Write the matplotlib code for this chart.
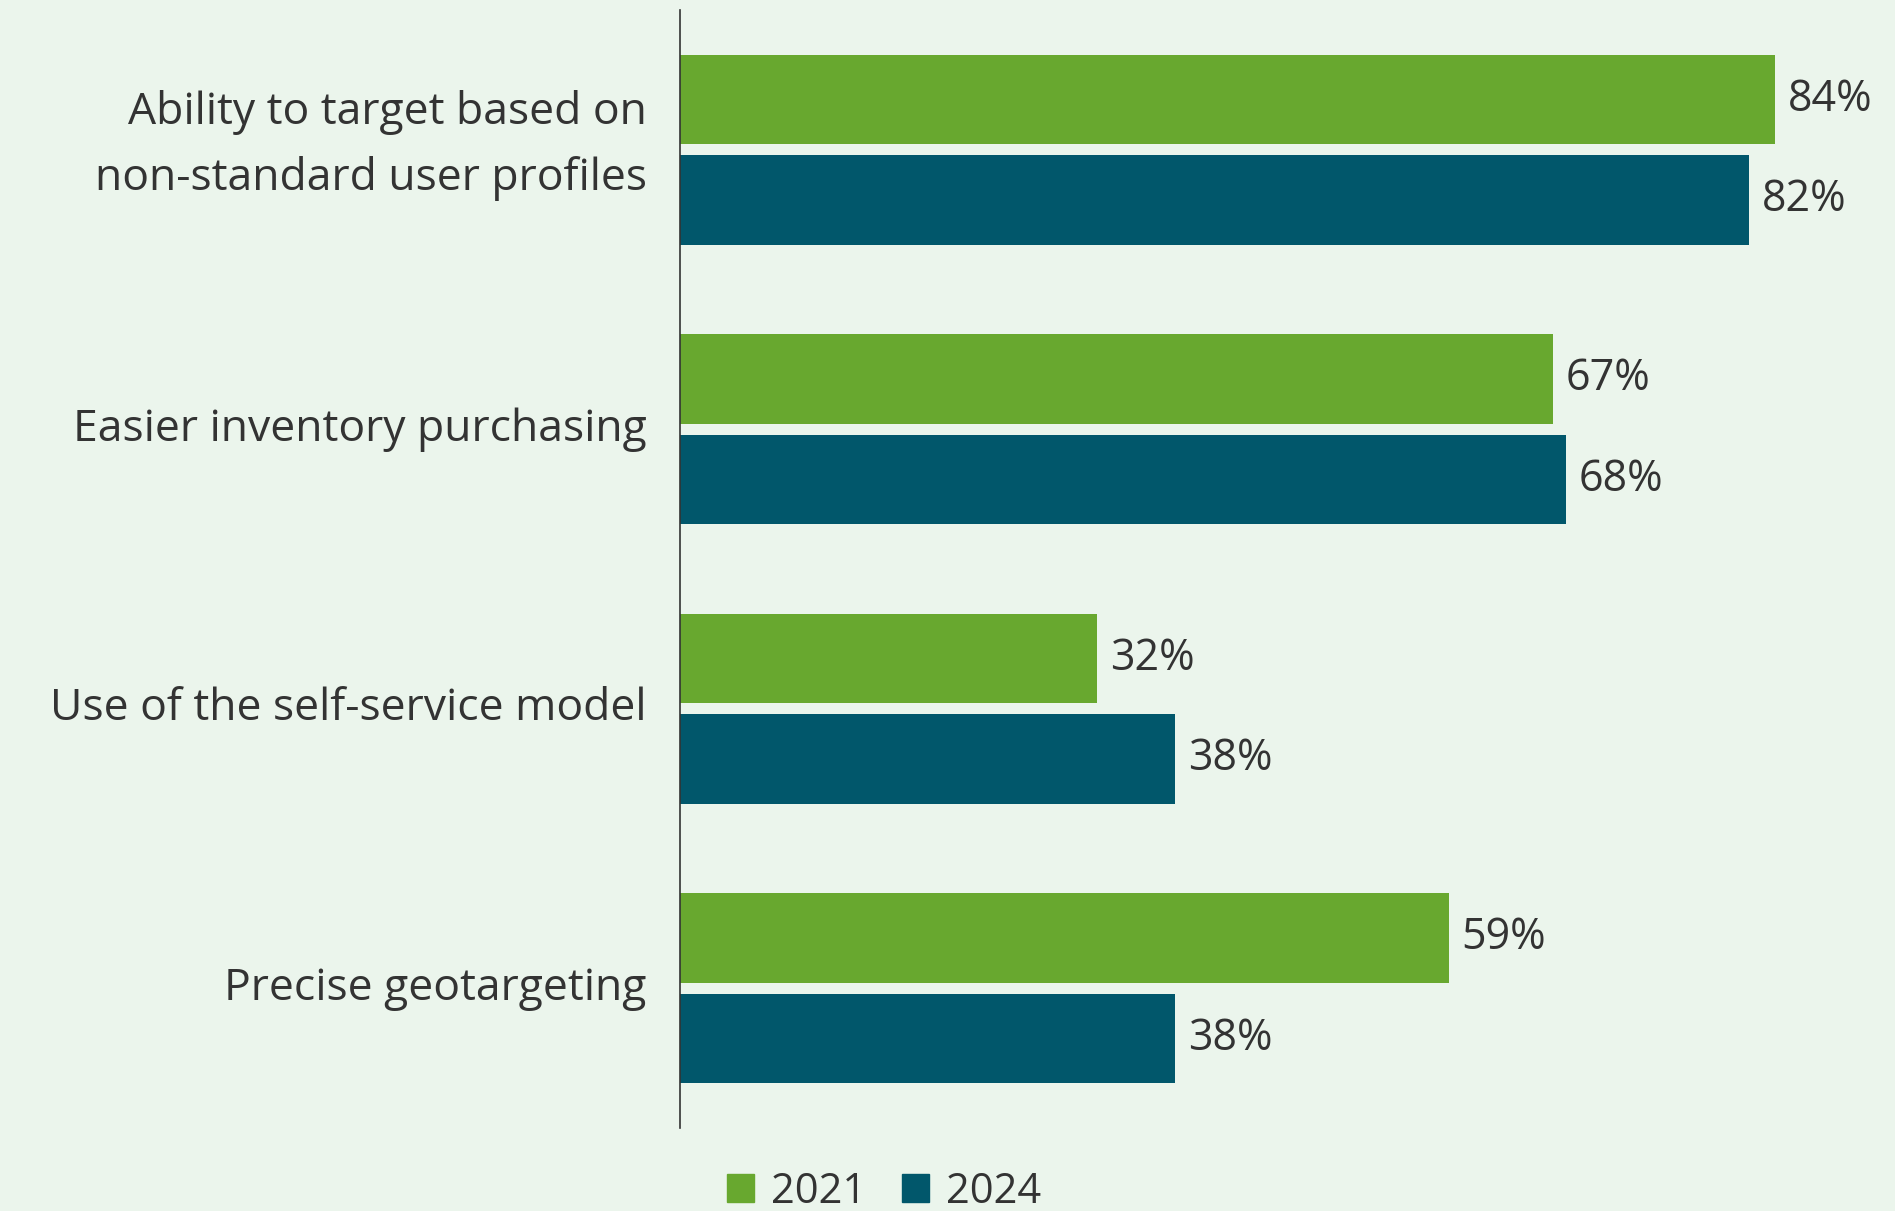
import matplotlib.pyplot as plt
import matplotlib.transforms as mtransforms
import numpy as np
from matplotlib.patches import Patch

plt.rcParams["font.family"] = ["Open Sans", "DejaVu Sans"]

categories = [
    "Ability to target based on\nnon-standard user profiles",
    "Easier inventory purchasing",
    "Use of the self-service model",
    "Precise geotargeting",
]
values_2021 = [84, 67, 32, 59]
values_2024 = [82, 68, 38, 38]
series_labels = ["2021", "2024"]

GREEN = "#68a82f"
NAVY = "#01576b"
BG = "#ebf5ec"
TEXT = "#333333"

fig = plt.figure(figsize=(18.95, 12.11), dpi=100, facecolor=BG)
ax = fig.add_axes([680 / 1895, 1 - 1128 / 1211, 1 - 680 / 1895, (1128 - 10) / 1211])
ax.set_facecolor(BG)

y = np.arange(len(categories))
offset = 0.18
height = 0.32

bars_a = ax.barh(y - offset, values_2021, height=height, color=GREEN)
bars_b = ax.barh(y + offset, values_2024, height=height, color=NAVY)

for bars, vals in ((bars_a, values_2021), (bars_b, values_2024)):
    for bar, v in zip(bars, vals):
        ax.annotate(f"{v}%", (v, bar.get_y() + bar.get_height() / 2),
                    xytext=(9, 0), textcoords="offset points",
                    ha="left", va="center", fontsize=31, color=TEXT)

ax.set_xlim(0, 93.2)
ax.set_ylim(3.5, -0.5)
ax.set_yticks(y, categories, fontsize=32, color=TEXT, linespacing=1.6, ha="right")
ax.tick_params(axis="y", length=0, pad=24)
ax.set_xticks([])

# nudge the labels up a little; the wrapped one sits higher
for i, lbl in enumerate(ax.get_yticklabels()):
    dy = 0.2 if i == 0 else 0.05
    lbl.set_transform(lbl.get_transform()
                      + mtransforms.ScaledTranslation(0, dy, fig.dpi_scale_trans))

for side in ("top", "right", "bottom"):
    ax.spines[side].set_visible(False)
ax.spines["left"].set_color(TEXT)
ax.spines["left"].set_linewidth(1.2)

handles = [Patch(color=GREEN), Patch(color=NAVY)]
fig.legend(handles, series_labels, loc="center", ncol=2, frameon=False,
           bbox_to_anchor=(884 / 1895, 1 - 1192 / 1211), fontsize=30,
           handlelength=0.66, handleheight=0.66, handletextpad=0.4,
           columnspacing=0.85, labelcolor=TEXT)

fig.savefig("out.png", dpi=100, facecolor=BG)
